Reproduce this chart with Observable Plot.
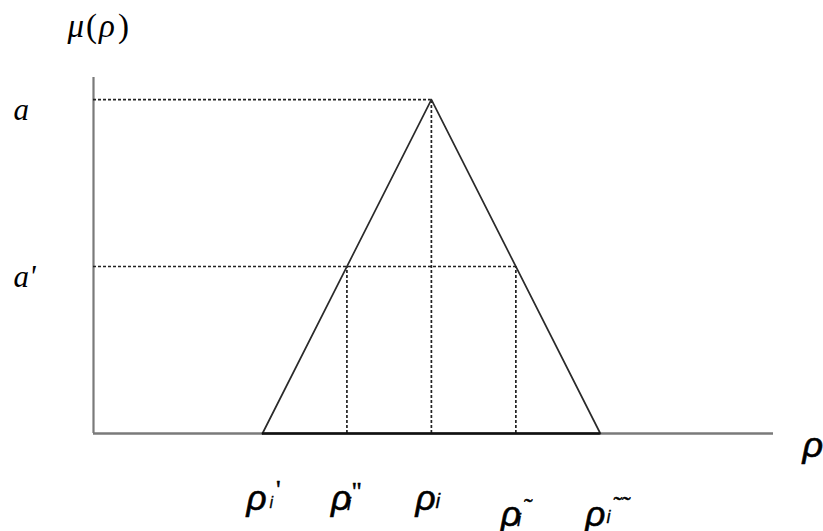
<!DOCTYPE html>
<html><head><meta charset="utf-8">
<script src="https://cdn.jsdelivr.net/npm/d3@7"></script>
<script src="https://cdn.jsdelivr.net/npm/@observablehq/plot@0.6"></script>
<style>body{margin:0;background:#fff} #chart svg{display:block;background:#fff}</style>
</head><body><div id="chart"></div>
<script>
// ---- data ----
const xTicks = [2, 3, 4, 5, 6];
const xTickBase = ["ρ", "ρ", "ρ", "ρ", "ρ"];
const xTickSub = ["i", "i", "i", "i", "i"];
const xTickMark = ["'", "''", "", "˜", "˜˜"];
const triangleX = [2, 4, 6];
const triangleY = [0, 1, 0];
const levels = [1, 0.5];
const levelLabels = ["a", "a'"];
const levelRightCut = [4, 5];
const cutX = [3, 4, 5];
const cutY = [0.5, 1, 0.5];
const xAxisLabel = "ρ";
const yAxisLabel = "μ(ρ)";
const xDomain = [0, 8.05];
const yDomain = [0, 1.066];

// ---- styles (per-label fine tuning) ----
const subDx = [3, -4, 0, -4, 1];
const subSize = [16, 18, 21, 18, 18];
const subDy = [-2, 0, -2, 0, -3];
const markDy = [-10, -10, 0, -10, -9];
const markDx = [3, 1, 0, 3, 3];

const triangle = triangleX.map((x, i) => ({x, y: triangleY[i]}));
const enc = (d, i) => `${i}|${xTickBase[i]}|${xTickSub[i]}|${xTickMark[i]}`;
const rhoStyle = {textAnchor: "start", lineAnchor: "bottom", fontSize: 35, fontStyle: "italic", fontFamily: "Liberation Sans, Arial, sans-serif", fill: "#000", stroke: "#000", strokeWidth: 0.6};

const svg = Plot.plot({
  width: 823, height: 531,
  marginLeft: 93, marginRight: 50, marginTop: 77, marginBottom: 98,
  style: {fontSize: "16px"},
  x: {domain: xDomain, axis: null},
  y: {domain: yDomain, axis: null},
  marks: [
    Plot.ruleX([0], {stroke: "#7a7a7a", strokeWidth: 2.2}),
    Plot.ruleY([0], {stroke: "#7a7a7a", strokeWidth: 2.4}),
    Plot.ruleY(levels, {y: d => d, x1: 0, x2: (d, i) => levelRightCut[i], stroke: "#222", strokeWidth: 1.7, strokeDasharray: "3,2"}),
    Plot.ruleX(cutX, {x: d => d, y1: 0, y2: (d, i) => cutY[i], stroke: "#222", strokeWidth: 1.7, strokeDasharray: "3,2"}),
    Plot.line(triangle, {x: "x", y: "y", stroke: "#2a2a2a", strokeWidth: 1.7}),
    Plot.ruleY([0], {x1: triangleX[0], x2: triangleX[triangleX.length - 1], stroke: "#111", strokeWidth: 2.6}),
    Plot.text(xTicks, {...rhoStyle, filter: (d, i) => i < 3, x: d => d, y: 0, text: enc, dx: -16, dy: 76}),
    Plot.text(xTicks, {...rhoStyle, filter: (d, i) => i >= 3, x: d => d, y: 0, text: enc, dx: -15, dy: 92}),
    Plot.text(levels, {y: d => d, text: (d, i) => levelLabels[i], frameAnchor: "left", textAnchor: "start", lineAnchor: "bottom", dx: -80, dy: 20, fontSize: 31, fontStyle: "italic", fontFamily: "Liberation Serif, Times New Roman, serif", fill: "#000"}),
    Plot.text([xAxisLabel], {...rhoStyle, frameAnchor: "bottom-right", text: d => d, dx: 29, dy: 23, fontSize: 36}),
    Plot.text([yAxisLabel], {frameAnchor: "top-left", text: d => d, textAnchor: "start", lineAnchor: "bottom", dx: -26, dy: -41, fontSize: 33, fontFamily: "Liberation Serif, Times New Roman, serif", fill: "#000"})
  ]
});

// rebuild tick labels with subscripts / marks
d3.select(svg).selectAll("text").each(function () {
  const t = this.textContent;
  const el = d3.select(this);
  if (t.includes("|")) {
    const [is, b, s, m] = t.split("|");
    const i = +is;
    el.text("");
    el.append("tspan").text(b);
    el.append("tspan").attr("font-size", subSize[i]).attr("stroke-width", 0.3).attr("dx", subDx[i]).attr("dy", subDy[i]).text(s);
    if (m) el.append("tspan").attr("font-size", 26).attr("stroke-width", 0.5).attr("font-style", "normal").attr("font-family", "Liberation Serif, serif").attr("dx", markDx[i]).attr("dy", markDy[i]).text(m);
  } else if (t === yAxisLabel) {
    el.text("");
    el.append("tspan").attr("font-style", "italic").text("μ");
    el.append("tspan").attr("dx", 2).text("(");
    el.append("tspan").attr("dx", 2).attr("font-style", "italic").text("ρ");
    el.append("tspan").attr("dx", 3).text(")");
  }
});

document.getElementById("chart").appendChild(svg);
</script>
</body></html>
